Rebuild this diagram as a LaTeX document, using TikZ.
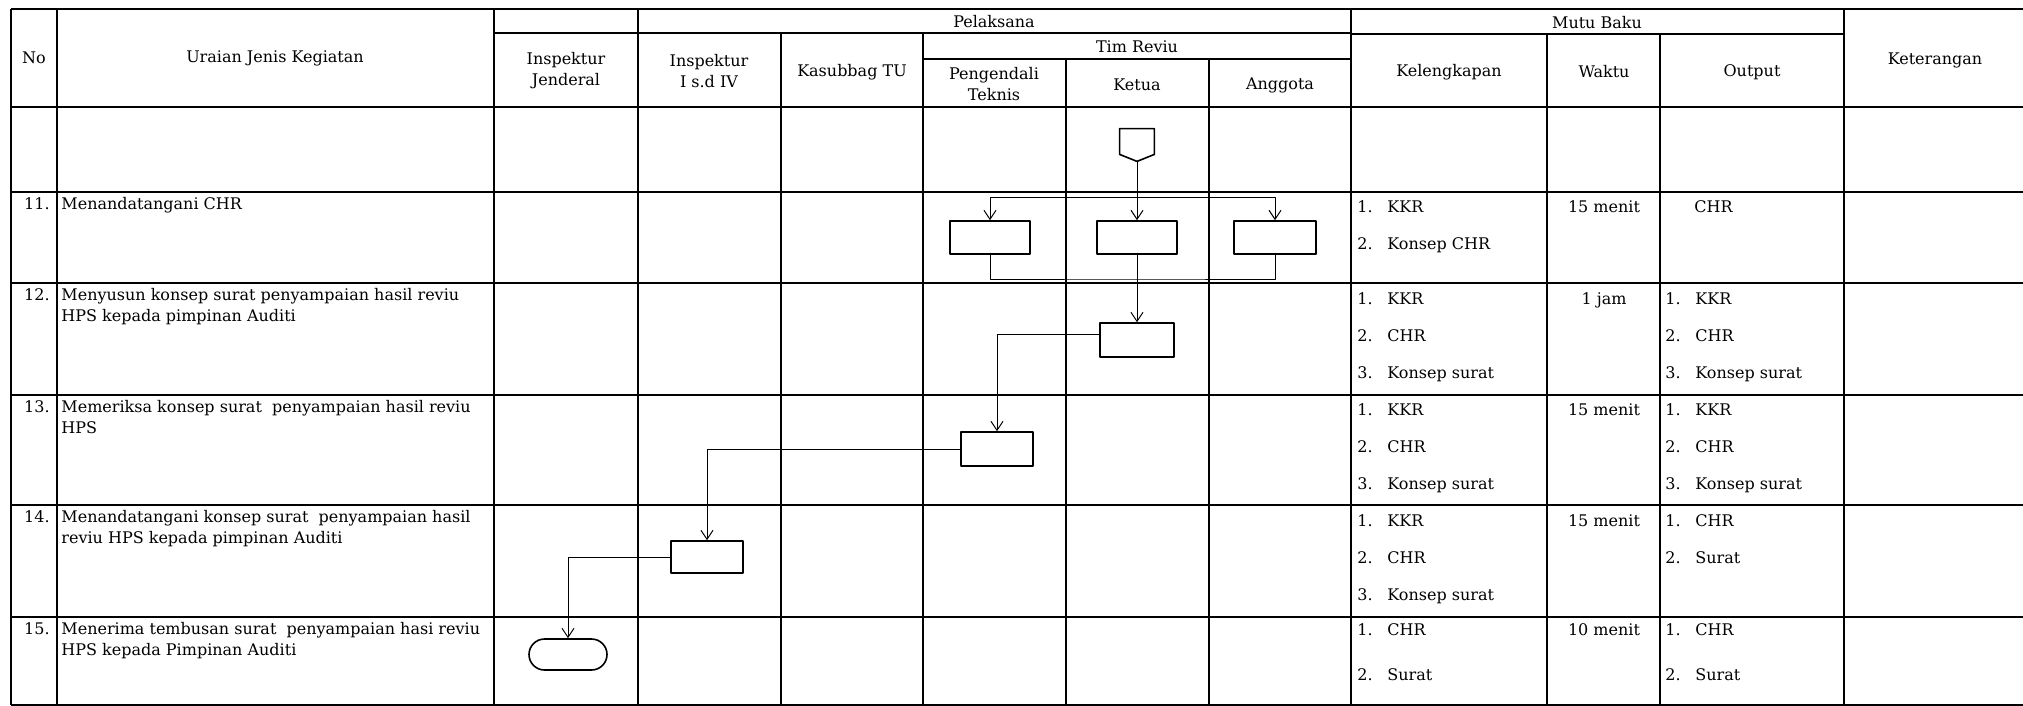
\documentclass[tikz,border=0pt]{standalone}
\usepackage{fontspec}
\setmainfont{DejaVu Serif}
\usetikzlibrary{arrows.meta,shapes.misc}
\newcommand{\itm}[2]{\makebox[15pt][l]{#1}#2}
\begin{document}
\begin{tikzpicture}[x=0.5pt,y=-0.5pt,>={Straight Barb[length=4.5pt,width=6pt]},line join=round,
	font=\fontsize{8}{10.5}\selectfont,
	garis/.style={line width=1pt},
	alur/.style={line width=0.5pt},
	kotak/.style={draw,line width=0.8pt,inner sep=0pt,minimum width=40pt,minimum height=16.5pt},
	judul/.style={inner sep=0pt,align=center},
	nomor/.style={inner sep=0pt,anchor=north east},
	uraian/.style={inner sep=0pt,anchor=north west,align=left},
	isi/.style={inner sep=0pt,anchor=north west,align=left,font=\fontsize{8}{18.5}\selectfont}]
	\useasboundingbox (0,0) rectangle (2023,706);
	% garis tabel
	\draw[garis] (11,9) -- (2023,9) (11,107) -- (2023,107) (11,192) -- (2023,192) (11,283) -- (2023,283)
		(11,395) -- (2023,395) (11,505) -- (2023,505) (11,617) -- (2023,617) (11,705) -- (2023,705);
	\draw[garis] (11,9) -- (11,705) (57,9) -- (57,705) (494,9) -- (494,705) (638,9) -- (638,705)
		(1351,9) -- (1351,705) (1844,9) -- (1844,705);
	\draw[garis] (494,33) -- (1351,33) (781,33) -- (781,705) (923,33) -- (923,705);
	\draw[garis] (923,59) -- (1351,59) (1066,59) -- (1066,705) (1209,59) -- (1209,705);
	\draw[garis] (1351,34) -- (1844,34) (1547,34) -- (1547,705) (1660,34) -- (1660,705);
	% judul kolom
	\node[judul] (hNo) at (34,58) {No};
	\node[judul] (hUraian) at (275,58) {Uraian Jenis Kegiatan};
	\node[judul] (hIJ) at (566,71) {Inspektur\\Jenderal};
	\node[judul] (hIrj) at (709,71) {Inspektur\\I s.d IV};
	\node[judul] (hKsb) at (852,72) {Kasubbag TU};
	\node[judul] (hPlk) at (994,22) {Pelaksana};
	\node[judul] (hTim) at (1137,47) {Tim Reviu};
	\node[judul] (hPT) at (994,84) {Pengendali\\Teknis};
	\node[judul] (hKetua) at (1137,85) {Ketua};
	\node[judul] (hAgt) at (1280,85) {Anggota};
	\node[judul] (hMutu) at (1597,23) {Mutu Baku};
	\node[judul] (hKlk) at (1449,72) {Kelengkapan};
	\node[judul] (hWkt) at (1604,72) {Waktu};
	\node[judul] (hOut) at (1752,72) {Output};
	\node[judul] (hKet) at (1935,60) {Keterangan};
	% kegiatan
	\node[nomor] (n11) at (50,197) {11.};
	\node[uraian] (u11) at (61,197) {Menandatangani CHR};
	\node[nomor] (n12) at (50,288) {12.};
	\node[uraian] (u12) at (61,288) {Menyusun konsep surat penyampaian hasil reviu\\HPS kepada pimpinan Auditi};
	\node[nomor] (n13) at (50,400) {13.};
	\node[uraian] (u13) at (61,400) {Memeriksa konsep surat\ \ penyampaian hasil reviu\\HPS};
	\node[nomor] (n14) at (50,510) {14.};
	\node[uraian] (u14) at (61,510) {Menandatangani konsep surat\ \ penyampaian hasil\\reviu HPS kepada pimpinan Auditi};
	\node[nomor] (n15) at (50,622) {15.};
	\node[uraian] (u15) at (61,622) {Menerima tembusan surat\ \ penyampaian hasi reviu\\HPS kepada Pimpinan Auditi};
	% mutu baku
	\node[isi] (k11) at (1357,200) {\itm{1.}{KKR}\\\itm{2.}{Konsep CHR}};
	\node[isi] (k12) at (1357,292) {\itm{1.}{KKR}\\\itm{2.}{CHR}\\\itm{3.}{Konsep surat}};
	\node[isi] (k13) at (1357,403) {\itm{1.}{KKR}\\\itm{2.}{CHR}\\\itm{3.}{Konsep surat}};
	\node[isi] (k14) at (1357,514) {\itm{1.}{KKR}\\\itm{2.}{CHR}\\\itm{3.}{Konsep surat}};
	\node[isi] (k15) at (1357,623) {\itm{1.}{CHR}\\[4pt]\itm{2.}{Surat}};
	\node[judul,anchor=north] (w11) at (1604,200) {15 menit};
	\node[judul,anchor=north] (w12) at (1604,292) {1 jam};
	\node[judul,anchor=north] (w13) at (1604,403) {15 menit};
	\node[judul,anchor=north] (w14) at (1604,514) {15 menit};
	\node[judul,anchor=north] (w15) at (1604,623) {10 menit};
	\node[isi] (o11) at (1694,200) {CHR};
	\node[isi] (o12) at (1665,292) {\itm{1.}{KKR}\\\itm{2.}{CHR}\\\itm{3.}{Konsep surat}};
	\node[isi] (o13) at (1665,403) {\itm{1.}{KKR}\\\itm{2.}{CHR}\\\itm{3.}{Konsep surat}};
	\node[isi] (o14) at (1665,514) {\itm{1.}{CHR}\\\itm{2.}{Surat}};
	\node[isi] (o15) at (1665,623) {\itm{1.}{CHR}\\[4pt]\itm{2.}{Surat}};
	% bagan alir
	\node[inner sep=0pt,minimum width=17pt,minimum height=12.5pt] (penghubung) at (1137,141.5) {};
	\coordinate (ujung) at ([yshift=-3.5pt]penghubung.south);
	\draw[line width=0.8pt] (penghubung.north west) -- (penghubung.north east) -- (penghubung.south east)
		-- (ujung) -- (penghubung.south west) -- cycle;
	\node[kotak] (b11a) at (990,237.5) {};
	\node[kotak] (b11b) at (1137,237.5) {};
	\node[kotak,minimum width=41pt] (b11c) at (1275,237.5) {};
	\node[kotak,minimum width=37pt,minimum height=17pt] (b12) at (1137,340) {};
	\node[kotak,minimum width=36pt,minimum height=17pt] (b13) at (997,449) {};
	\node[kotak,minimum width=36pt,minimum height=16pt] (b14) at (707,557) {};
	\node[kotak,rounded rectangle,minimum width=39pt,minimum height=15.5pt] (akhir) at (568,654.5) {};
	\coordinate (cabang) at (1137,197);
	\coordinate (gabung) at (1137,279);
	\draw[alur,->] (ujung) -- (b11b.north);
	\draw[alur,->] (cabang) -| (b11a.north);
	\draw[alur,->] (cabang) -| (b11c.north);
	\draw[alur] (b11a.south) |- (gabung) -| (b11c.south);
	\draw[alur,->] (b11b.south) -- (b12.north);
	\draw[alur,->] ([yshift=3pt]b12.west) -| (b13.north);
	\draw[alur,->] (b13.west) -| (b14.north);
	\draw[alur,->] (b14.west) -| (akhir.north);
\end{tikzpicture}
\end{document}
